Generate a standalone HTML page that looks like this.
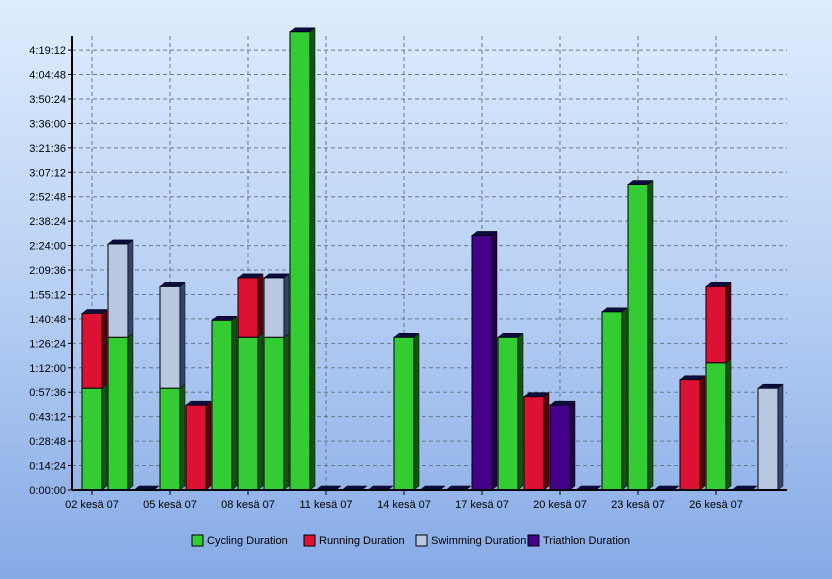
<!DOCTYPE html>
<html><head><meta charset="utf-8"><style>
body{margin:0;}
#wrap{width:832px;height:579px;background:linear-gradient(#deedfd 0%,#bcd3f5 45%,#86aae6 100%);position:relative;font-family:"Liberation Sans",sans-serif;}
svg{position:absolute;left:0;top:0;}
</style></head><body>
<div id="wrap">
<svg id="chartsvg" width="832" height="579"></svg>
</div>
<script>
const days=[2,3,4,5,6,7,8,9,10,11,12,13,14,15,16,17,18,19,20,21,22,23,24,25,26,27,28];
const cycling=[3600,5400,0,3600,0,6000,5400,5400,16200,0,0,0,5400,0,0,0,5400,0,0,0,6300,10800,0,0,4500,0,0];
const running=[2640,0,0,0,3000,0,2100,0,0,0,0,0,0,0,0,0,0,3300,0,0,0,0,0,3900,2700,0,0];
const swimming=[0,3300,0,3600,0,0,0,2100,0,0,0,0,0,0,0,0,0,0,0,0,0,0,0,0,0,0,3600];
const triathlon=[0,0,0,0,0,0,0,0,0,0,0,0,0,0,0,9000,0,0,3000,0,0,0,0,0,0,0,0];
const tickLabels=["0:00:00","0:14:24","0:28:48","0:43:12","0:57:36","1:12:00","1:26:24","1:40:48","1:55:12","2:09:36","2:24:00","2:38:24","2:52:48","3:07:12","3:21:36","3:36:00","3:50:24","4:04:48","4:19:12"];
const xLabels=["02 kesä 07","05 kesä 07","08 kesä 07","11 kesä 07","14 kesä 07","17 kesä 07","20 kesä 07","23 kesä 07","26 kesä 07"];
const xLabelDays=[2,5,8,11,14,17,20,23,26];
const series=[
 {name:"Cycling Duration",data:cycling,fill:"#33cc33",side:"#115511"},
 {name:"Running Duration",data:running,fill:"#dd1133",side:"#550011"},
 {name:"Swimming Duration",data:swimming,fill:"#b8c8e0",side:"#334466"},
 {name:"Triathlon Duration",data:triathlon,fill:"#440088",side:"#220044"}];
const svgEl=document.getElementById('chartsvg');const NS="http://www.w3.org/2000/svg";
function mk(t,a){const e=document.createElementNS(NS,t);for(const k in a)e.setAttribute(k,a[k]);svgEl.appendChild(e);return e;}
const baseY=490,stepPx=24.44;
const yScale=s=>baseY-s/864*stepPx;
const xScale=d=>92+26*(d-2);
const plotLeft=72,plotRight=787,plotTop=36;
tickLabels.forEach((t,i)=>{const yy=yScale(i*864);
 if(i>0){const g=mk('line',{x1:plotLeft,x2:plotRight,y1:yy,y2:yy,stroke:'#6a7a8e','stroke-dasharray':'4,3','stroke-width':1});
 
 }
 const tk=mk('line',{x1:plotLeft-4,x2:plotLeft,y1:yy,y2:yy,stroke:'#000'});
 
 
 const tx=mk('text',{x:plotLeft-6,y:yy+4,'text-anchor':'end','font-size':11,fill:'#000'});tx.textContent=t;
 
 });
xLabelDays.forEach((d,i)=>{const xx=xScale(d);
 const g=mk('line',{x1:xx,x2:xx,y1:plotTop,y2:baseY,stroke:'#6a7a8e','stroke-dasharray':'4,3'});
 
 
 const tk=mk('line',{x1:xx,x2:xx,y1:baseY,y2:baseY+5,stroke:'#000'});
 
 
 const tx=mk('text',{x:xx,y:508,'text-anchor':'middle','font-size':11,fill:'#000'});tx.textContent=xLabels[i];
 
 });
const bw=20,dx=5,dy=4;
days.forEach((d,i)=>{const cx=xScale(d),bx=cx-10;let base=0;let any=false;
 series.forEach(s=>{const v=s.data[i];if(!v)return;any=true;
  const yb=yScale(base),yt=yScale(base+v);
  const r=mk('rect',{x:bx,y:yt,width:bw,height:yb-yt,fill:s.fill,stroke:'#000','stroke-width':1});
  
  
  const sd=mk('polygon',{points:`${bx+bw},${yt} ${bx+bw+dx},${yt-dy} ${bx+bw+dx},${yb-dy} ${bx+bw},${yb}`,fill:s.side,stroke:'#000','stroke-width':0.5});
  
  
  base+=v;});
 const yt=yScale(base);
 const tp=mk('polygon',{points:`${bx},${yt} ${bx+dx},${yt-dy} ${bx+bw+dx},${yt-dy} ${bx+bw},${yt}`,fill:'#0c0c40',stroke:'#000','stroke-width':0.5});
 
 
});
const ya=mk('line',{x1:plotLeft,x2:plotLeft,y1:plotTop,y2:baseY,stroke:'#000','stroke-width':2});


const xa=mk('line',{x1:plotLeft,x2:plotRight,y1:baseY,y2:baseY,stroke:'#000','stroke-width':2});


const lx=[192,304,416,528];
series.forEach((s,i)=>{
 const r=mk('rect',{x:lx[i],y:535,width:11,height:11,fill:s.fill,stroke:'#000'});
 
 
 const t=mk('text',{x:lx[i]+15,y:544,'font-size':11,fill:'#000'});t.textContent=s.name;
 
 });
</script>
</body></html>
